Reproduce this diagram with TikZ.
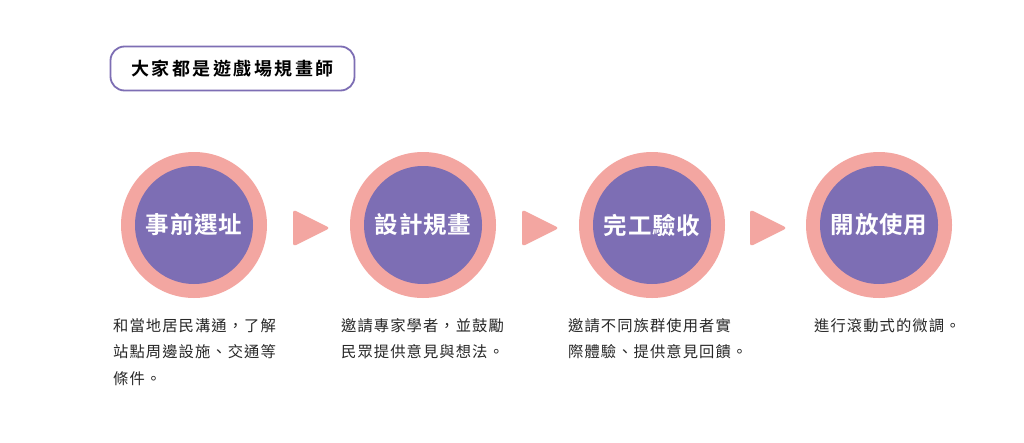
\documentclass[tikz,border=0pt]{standalone}
\usepackage{fontspec}
\newfontfamily\cjk{Noto Sans CJK TC}
\newfontfamily\cjkbody[LetterSpace=7]{Noto Sans CJK TC}
\newfontfamily\cjktitle[LetterSpace=14]{Noto Sans CJK TC Bold}
\newfontfamily\cjklabel[LetterSpace=4]{Noto Sans CJK TC Bold}
\usetikzlibrary{calc}
\definecolor{pinkc}{RGB}{243,166,161}
\definecolor{purplec}{RGB}{125,110,180}
\definecolor{bodyc}{RGB}{40,40,40}
\tikzset{
  outerc/.style={circle,fill=pinkc,minimum size=146pt,inner sep=0pt},
  innerc/.style={circle,fill=purplec,minimum size=118pt,inner sep=0pt,text=white,font=\cjklabel\fontsize{23.5pt}{26pt}\selectfont},
  bodytext/.style={anchor=north west,inner sep=0pt,align=left,text=bodyc,font=\cjkbody\fontsize{15.3pt}{26.5pt}\selectfont},
  arrowtri/.style={fill=pinkc,rounded corners=3pt}
}
\begin{document}
\begin{tikzpicture}[x=1pt,y=-1pt]
\useasboundingbox (0,0) rectangle (1024,442);
\fill[white] (0,0) rectangle (1024,442);
% title
\node[draw=purplec,line width=1.8pt,rounded corners=14pt,minimum width=244pt,minimum height=44pt,inner sep=0pt,font=\cjktitle\fontsize{18pt}{20pt}\selectfont,text=black] (title) at (232.5,68.5) {大家都是遊戲場規畫師};
% circles
\foreach \n/\x/\t in {1/194/事前選址,2/423/設計規畫,3/652/完工驗收,4/879/開放使用}{
  \node[outerc] (o\n) at (\x,225) {};
  \node[innerc] (c\n) at (\x,225) {\t};
}
% arrows between circles
\foreach \a/\b in {1/2,2/3,3/4}{
  \coordinate (m\a) at ($(o\a)!0.5!(o\b)+(3,3)$);
  \fill[arrowtri] ($(m\a)+(-18.5,-18.5)$) -- ($(m\a)+(18.5,0)$) -- ($(m\a)+(-18.5,18.5)$) -- cycle;
}
% body text
\node[bodytext] (t1) at (113,318) {和當地居民溝通，了解\\站點周邊設施、交通等\\條件。};
\node[bodytext] (t2) at (341,318) {邀請專家學者，並鼓勵\\民眾提供意見與想法。};
\node[bodytext] (t3) at (568,318) {邀請不同族群使用者實\\際體驗、提供意見回饋。};
\node[bodytext] (t4) at (814,318) {進行滾動式的微調。};
\end{tikzpicture}
\end{document}
